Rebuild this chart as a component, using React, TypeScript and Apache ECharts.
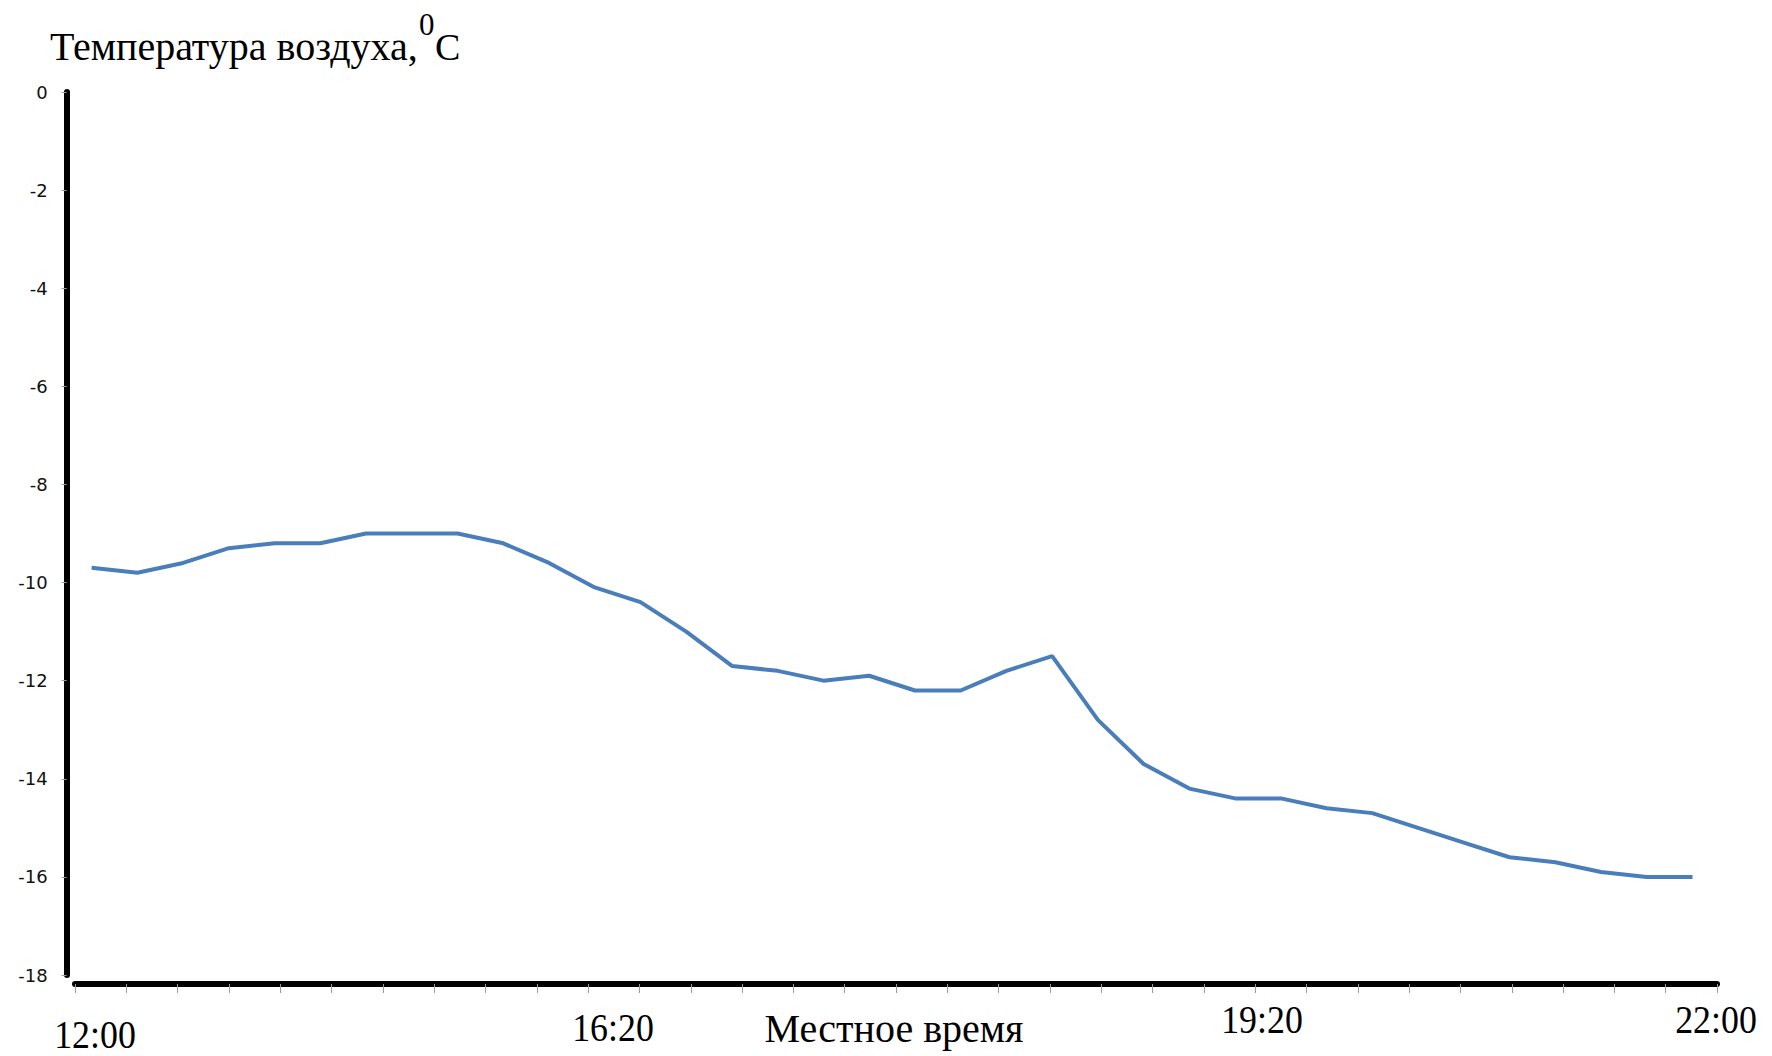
import React, { useEffect, useRef } from "react";
import * as echarts from "echarts";

// Data
const pointIds = [
  "1", "2", "3", "4", "5", "6", "7", "8", "9", "10", "11", "12",
  "13", "14", "15", "16", "17", "18", "19", "20", "21", "22", "23", "24",
  "25", "26", "27", "28", "29", "30", "31", "32", "33", "34", "35", "36",
];
const temperature = [
  -9.7, -9.8, -9.6, -9.3, -9.2, -9.2, -9.0, -9.0, -9.0, -9.2, -9.6, -10.1,
  -10.4, -11.0, -11.7, -11.8, -12.0, -11.9, -12.2, -12.2, -11.8, -11.5, -12.8, -13.7,
  -14.2, -14.4, -14.4, -14.6, -14.7, -15.0, -15.3, -15.6, -15.7, -15.9, -16.0, -16.0,
];
const timeTickSlots = [
  "", "", "", "", "", "", "", "", "", "", "", "", "", "", "", "", "",
  "", "", "", "", "", "", "", "", "", "", "", "", "", "", "", "",
];
const timeLabels = ["12:00", "16:20", "19:20", "22:00"];
const xAxisTitle = "Местное время";
const yAxisTitle = "Температура воздуха,";
const yMin = -18;
const yMax = 0;
const yStep = 2;

export default function App() {
  const ref = useRef<HTMLDivElement>(null);
  useEffect(() => {
    if (!ref.current) return;
    const chart = echarts.init(ref.current, null, { renderer: "svg" });
    const serif = "'Liberation Serif', 'Times New Roman', serif";
    const labelPos = [
      { x: 95, y: 1035 },
      { x: 613, y: 1028 },
      { x: 1262, y: 1020 },
      { x: 1716, y: 1020 },
    ];
    chart.setOption({
      animation: false,
      backgroundColor: "#ffffff",
      grid: [
        { left: 91.6, right: 79.5, top: 92, bottom: 81, containLabel: false },
        { left: 75, right: 55, top: 92, bottom: 72, containLabel: false },
      ],
      xAxis: [
        {
          type: "category",
          gridIndex: 0,
          data: pointIds,
          boundaryGap: false,
          show: false,
        },
        {
          type: "category",
          gridIndex: 1,
          data: timeTickSlots,
          boundaryGap: false,
          position: "bottom",
          axisLine: { show: true, onZero: false, lineStyle: { color: "#000", width: 6 } },
          axisTick: {
            show: true,
            interval: 0,
            length: 9,
            lineStyle: { color: "#9a9a9a", width: 1 },
          },
          axisLabel: { show: false },
          splitLine: { show: false },
        },
      ],
      yAxis: [
        {
          type: "value",
          gridIndex: 0,
          min: yMin,
          max: yMax,
          interval: yStep,
          offset: 25,
          axisLine: { show: true, lineStyle: { color: "#000", width: 6 } },
          axisTick: { show: true, length: 5, lineStyle: { color: "#9a9a9a", width: 1 } },
          axisLabel: {
            margin: 19,
            color: "#111",
            fontFamily: "'DejaVu Sans', Verdana, sans-serif",
            fontSize: 18,
          },
          splitLine: { show: false },
        },
        { type: "value", gridIndex: 1, show: false, min: yMin, max: yMax },
      ],
      series: [
        {
          type: "line",
          xAxisIndex: 0,
          yAxisIndex: 0,
          data: temperature,
          symbol: "none",
          lineStyle: { color: "#4A7EBB", width: 4 },
        },
      ],
      graphic: [
        {
          type: "text",
          x: 50,
          y: 46,
          style: {
            text: yAxisTitle,
            fontFamily: serif,
            fontSize: 40,
            fill: "#000",
            align: "left",
            verticalAlign: "middle",
          },
        },
        {
          type: "text",
          x: 419,
          y: 24,
          style: {
            text: "0",
            fontFamily: serif,
            fontSize: 31,
            fill: "#000",
            align: "left",
            verticalAlign: "middle",
          },
        },
        {
          type: "text",
          x: 435,
          y: 47,
          style: {
            text: "С",
            fontFamily: serif,
            fontSize: 38,
            fill: "#000",
            align: "left",
            verticalAlign: "middle",
          },
        },
        {
          type: "text",
          x: 894,
          y: 1028,
          style: {
            text: xAxisTitle,
            fontFamily: serif,
            fontSize: 40,
            fill: "#000",
            align: "center",
            verticalAlign: "middle",
          },
        },
        ...timeLabels.map((t, i) => ({
          type: "text",
          x: labelPos[i].x,
          y: labelPos[i].y,
          scaleX: 0.92,
          style: {
            text: t,
            fontFamily: serif,
            fontSize: 39,
            fill: "#000",
            align: "center",
            verticalAlign: "middle",
          },
        })),
      ],
    });
    return () => chart.dispose();
  }, []);
  return (
    <div
      ref={ref}
      style={{ position: "fixed", left: 0, top: 0, width: 1772, height: 1056, background: "#fff" }}
    />
  );
}
